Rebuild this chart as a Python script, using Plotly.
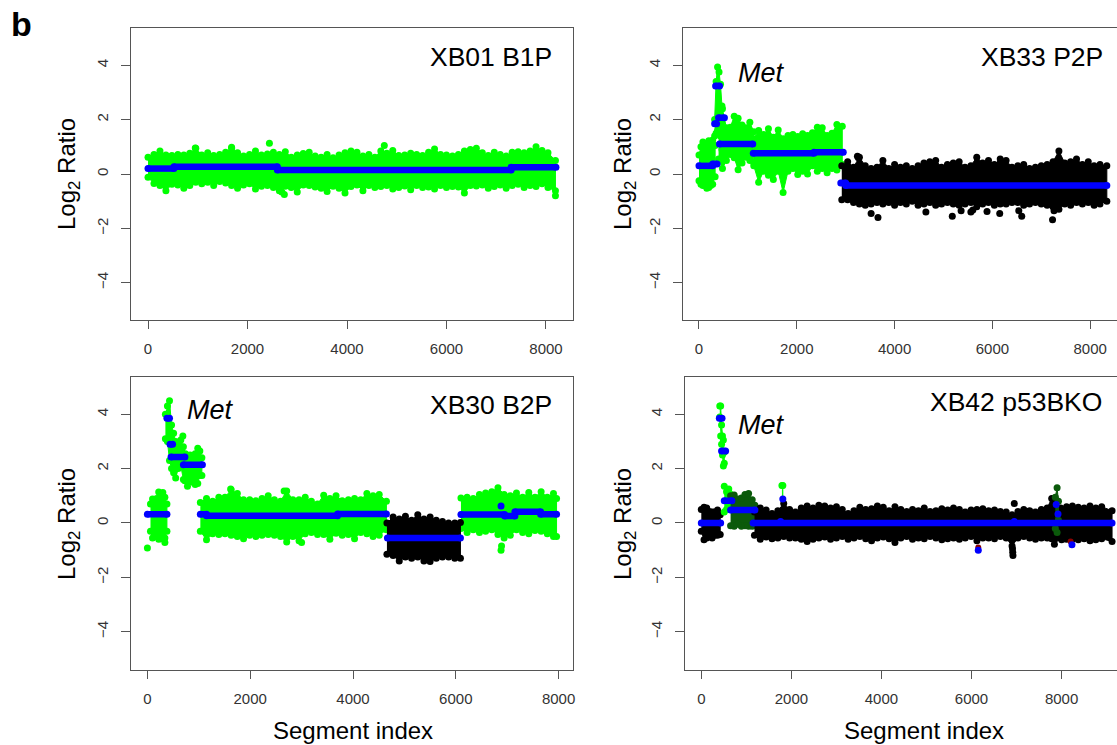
import plotly.graph_objects as go

W, H = 1117, 745
GREEN, BLACK, DARK, BLUE, RED = "#00ff00", "#000000", "#0b5a0b", "#0000ff", "#8b0000"
tick_vals_y = [-4, -2, 0, 2, 4]
tick_vals_x = [0, 2000, 4000, 6000, 8000]
panel_names = ["XB01 B1P", "XB33 P2P", "XB30 B2P", "XB42 p53BKO"]

# ---- Panel 1: XB01 B1P
p1_x = [0,120,240,360,480,600,720,840,960,1080,
        1200,1320,1440,1560,1680,1800,1920,2040,2160,2280,
        2400,2520,2640,2760,2880,3000,3120,3240,3360,3480,
        3600,3720,3840,3960,4080,4200,4320,4440,4560,4680,
        4800,4920,5040,5160,5280,5400,5520,5640,5760,5880,
        6000,6120,6240,6360,6480,6600,6720,6840,6960,7080,
        7200,7320,7440,7560,7680,7800,7920,8040,8190]
p1_hi = [.62,.72,.85,.7,.68,.72,.7,.76,.95,.7,
         .78,.68,.72,.8,.95,.78,.66,.72,.85,.7,
         .74,.8,.72,.82,.62,.7,.75,.8,.66,.62,
         .72,.6,.7,.78,.85,.8,.66,.72,.62,.85,
         .76,.86,.68,.7,.76,.72,.68,.8,.92,.72,
         .7,.66,.72,.85,.9,.95,.78,.68,.8,.72,
         .66,.8,.82,.78,.85,1.0,.86,.78,.5]
p1_lo = [-.12,-.35,-.42,-.62,-.38,-.4,-.52,-.42,-.3,-.36,
         -.3,-.42,-.28,-.33,-.42,-.52,-.4,-.36,-.55,-.45,
         -.42,-.5,-.62,-.45,-.5,-.66,-.4,-.42,-.48,-.52,
         -.64,-.45,-.52,-.7,-.46,-.4,-.62,-.42,-.5,-.46,
         -.42,-.55,-.5,-.44,-.58,-.42,-.5,-.48,-.55,-.42,
         -.5,-.46,-.48,-.7,-.42,-.44,-.4,-.52,-.46,-.4,
         -.52,-.42,-.38,-.5,-.42,-.46,-.36,-.5,-.62]
p1_out_x = [2440,4750,2690,2740,8190,950,1680]
p1_out_y = [1.13,1.05,-.66,-.75,-.8,.96,.98]
p1_seg_x0 = [0,520,2600,7300]
p1_seg_x1 = [520,2600,7300,8200]
p1_seg_y = [.2,.27,.15,.25]

# ---- Panel 2: XB33 P2P
p2a_x = [0,40,80,120,160,200,240,280,330]
p2a_hi = [.7,1.0,1.18,1.1,1.12,1.22,1.05,1.25,1.05]
p2a_lo = [-.25,-.38,-.42,-.42,-.52,-.5,-.42,-.38,-.1]
p2b_x = [320,350,380,410,440,470]
p2b_hi = [2.0,3.4,3.94,3.75,3.3,2.5]
p2b_lo = [1.4,1.5,1.6,1.5,1.4,.9]
p2c_x = [400,480,560,640,720,800,880,960,1040,1120]
p2c_hi = [1.95,2.4,1.7,1.72,2.12,2.05,1.8,1.7,1.9,1.55]
p2c_lo = [.55,.2,.5,.72,.6,.16,.4,.62,.5,.42]
p2d_x = [1120,1220,1320,1420,1520,1620,1720,1820,1920,2020,
         2120,2220,2320,2420,2520,2620,2720,2820,2930]
p2d_hi = [1.3,1.6,1.45,1.66,1.35,1.62,1.3,1.42,1.45,1.38,
          1.48,1.42,1.52,1.72,1.7,1.42,1.5,1.82,1.76]
p2d_lo = [.3,-.3,.1,-.05,-.2,.1,-.68,.1,.2,-.02,
          .1,0,.3,.1,.2,.05,.2,.15,.35]
p2e_x = [2920,3040,3160,3280,3400,3520,3640,3760,3880,4000,
         4120,4240,4360,4480,4600,4720,4840,4960,5080,5200,
         5320,5440,5560,5680,5800,5920,6040,6160,6280,6400,
         6520,6640,6760,6880,7000,7120,7240,7360,7480,7600,
         7720,7840,7960,8080,8200,8340]
p2e_hi = [.3,.45,.25,.62,.3,.2,.25,.5,.2,.35,
          .25,.3,.2,.3,.4,.45,.5,.25,.35,.4,
          .45,.25,.3,.62,.4,.5,.35,.55,.5,.25,
          .3,.35,.2,.25,.3,.35,.45,.85,.4,.45,
          .55,.35,.45,.3,.35,.3]
p2e_lo = [-.95,-.95,-1.05,-1.1,-1.15,-1.1,-1.05,-1.1,-1.05,-1.15,
          -1.05,-1.1,-1.0,-1.15,-1.1,-1.05,-1.15,-1.1,-1.05,-1.1,
          -1.15,-1.1,-1.05,-1.2,-1.1,-1.05,-1.15,-1.1,-1.1,-1.05,
          -1.05,-1.15,-1.1,-1.05,-1.1,-1.15,-1.2,-1.3,-1.1,-1.15,
          -1.05,-1.1,-1.05,-1.15,-1.1,-1.0]
p2_out_x = [3240,3260,3520,3660,4640,5180,5360,5560,5600,5890,6150,6540,6600,7230,7260]
p2_out_y = [.65,.6,-1.45,-1.6,-1.4,-1.55,-1.35,-1.4,-1.32,-1.38,-1.45,-1.35,-1.55,-1.68,-1.35]
p2_seg_x0 = [0,280,320,340,400,420,1110,2350,2900,3000]
p2_seg_x1 = [280,370,360,420,520,1100,2350,2950,3000,8340]
p2_seg_y = [.3,.37,1.85,3.24,2.07,1.1,.76,.8,-.33,-.42]

# ---- Panel 3: XB30 B2P
p3a_x = [60,100,140,180,220,260,300,340,380]
p3a_hi = [.7,.88,.86,.9,1.14,.95,1.12,.95,.7]
p3a_lo = [-.3,-.55,-.5,-.5,-.6,-.58,-.5,-.55,-.3]
p3b_x = [350,390,430,470,510,550,600,650,700,740]
p3b_hi = [4.0,4.3,4.5,3.6,3.3,3.0,2.9,3.05,2.8,2.55]
p3b_lo = [3.1,3.0,2.3,2.0,1.85,1.65,2.0,2.1,1.6,1.55]
p3c_x = [730,780,830,880,930,980,1020,1060]
p3c_hi = [2.3,2.35,2.5,2.4,2.55,2.75,2.65,2.4]
p3c_lo = [1.55,1.35,1.55,1.5,1.42,1.45,1.75,1.75]
p3d_x = [1030,1150,1270,1390,1510,1630,1750,1870,1990,2110,
         2230,2350,2470,2590,2710,2830,2950,3070,3190,3310,
         3430,3550,3670,3790,3910,4030,4150,4270,4390,4510,4650]
p3d_hi = [.75,.9,.8,.95,.95,1.22,1.08,.85,.85,.82,
          .9,1.0,.85,.8,1.18,.85,.85,.95,.8,.7,
          1.02,.9,1.0,.82,.85,.9,.85,1.08,1.0,1.05,.8]
p3d_lo = [-.3,-.62,-.4,-.42,-.4,-.45,-.5,-.58,-.45,-.5,
          -.45,-.42,-.45,-.5,-.7,-.5,-.65,-.4,-.35,-.42,
          -.42,-.6,-.38,-.45,-.42,-.58,-.35,-.4,-.5,-.45,-.25]
p3e_x = [4660,4780,4900,5020,5140,5260,5380,5500,5620,5740,5860,5980,6090]
p3e_hi = [0,.22,.15,.25,.1,.3,.15,.22,.1,.05,.0,.0,.02]
p3e_lo = [-1.15,-1.2,-1.4,-1.25,-1.3,-1.25,-1.4,-1.42,-1.3,-1.25,-1.25,-1.3,-1.3]
p3f_x = [6100,6220,6340,6460,6580,6700,6820,6940,7060,7180,7300,7420,7540,7660,7780,7900,7960]
p3f_hi = [.92,.95,.9,1.05,1.1,1.15,1.3,1.05,1.0,1.1,.95,1.12,.95,1.15,.95,1.08,.9]
p3f_lo = [-.2,-.35,-.25,-.35,-.3,-.25,-.42,-.55,-.45,-.25,-.35,-.4,-.28,-.3,-.4,-.5,-.5]
p3_out_x = [0,340,690,1620,2660,6880,6890,3000]
p3_out_y = [-.92,-.72,3.2,1.25,1.18,-1.0,-.85,-.72]
p3_seg_x0 = [0,380,440,460,700,1030,1150,3700,4670,6100,6950,7150,7650]
p3_seg_x1 = [380,430,490,730,1070,1150,3700,4650,6090,6950,7150,7650,7960]
p3_seg_y = [.32,3.85,2.9,2.43,2.14,.32,.27,.33,-.55,.31,.26,.41,.32]
p3_dot_x = [6880]
p3_dot_y = [.62]

# ---- Panel 4: XB42 p53BKO
p4a_x = [0,60,120,180,240,300,360,420]
p4a_hi = [.5,.58,.55,.42,.4,.4,.48,.3]
p4a_lo = [-.3,-.62,-.55,-.45,-.55,-.45,-.45,-.42]
p4b_x = [410,430,450,470,490,510]
p4b_hi = [4.3,4.3,3.6,3.2,3.05,2.6]
p4b_lo = [3.9,3.2,2.9,2.5,2.1,2.2]
p4c_x = [510,560,610,660]
p4c_hi = [1.35,1.15,1.25,1.05]
p4c_lo = [.4,.5,.65,.65]
p4d_x = [650,730,810,890,970,1050,1130,1190]
p4d_hi = [1.0,1.03,.88,.92,1.05,1.08,.85,.65]
p4d_lo = [-.1,-.12,-.05,-.12,-.1,-.12,-.12,-.02]
p4e_x = [1790,1810]
p4e_hi = [1.38,1.38]
p4e_lo = [.3,.4]
p4f_x = [7860,7900,7930]
p4f_hi = [.95,1.3,.8]
p4f_lo = [-.2,-.35,.1]
p4g_x = [1180,1310,1440,1570,1700,1830,1960,2090,2220,2350,
         2480,2610,2740,2870,3000,3130,3260,3390,3520,3650,
         3780,3910,4040,4170,4300,4430,4560,4690,4820,4950,
         5080,5210,5340,5470,5600,5730,5860,5990,6120,6250,
         6380,6510,6640,6770,6900,7030,7160,7290,7420,7550,
         7680,7780,7840,7980,8110,8240,8370,8500,8630,8760,8890,9120]
p4g_hi = [.4,.55,.48,.35,.45,.72,.5,.4,.55,.62,
          .55,.65,.62,.55,.6,.5,.35,.45,.58,.5,
          .52,.62,.58,.45,.6,.5,.42,.5,.45,.55,
          .42,.45,.52,.48,.55,.5,.4,.48,.5,.52,
          .45,.48,.42,.4,.3,.42,.5,.45,.4,.5,
          .55,.9,.85,.55,.6,.62,.58,.55,.62,.55,.6,.45]
p4g_lo = [-.45,-.6,-.52,-.58,-.55,-.5,-.55,-.55,-.6,-.68,
          -.6,-.55,-.52,-.6,-.55,-.5,-.6,-.55,-.5,-.58,
          -.65,-.55,-.52,-.58,-.72,-.55,-.5,-.6,-.55,-.58,
          -.5,-.55,-.62,-.58,-.55,-.6,-.55,-.5,-.65,-.55,
          -.55,-.58,-.5,-.55,-.85,-.55,-.5,-.55,-.6,-.55,
          -.55,-.58,-.78,-.55,-.6,-.6,-.62,-.58,-.65,-.62,-.58,-.68]
p4_out_x = [6950,6920,6915,6910,8000]
p4_out_y = [.72,-1.2,-1.08,-.95,-.62]
p4_red_x = [6150,8200]
p4_red_y = [-.9,-.68]
p4_seg_x0 = [0,400,450,510,650,1150]
p4_seg_x1 = [430,460,540,680,1190,9120]
p4_seg_y = [0,3.85,2.65,.82,.48,0]
p4_dot_x = [1760,1810,6950,7880,7920,6150,8230]
p4_dot_y = [.05,.88,.05,.68,.33,-1.0,-.8]

# ---- Layout geometry (pixels of the 1117x745 page)
boxes = {
    1: dict(l=131, r=573, t=28, b=320, xr=[-342, 8543], yr=[-5.37, 5.37], mirror=True),
    2: dict(l=683, r=1117, t=28, b=320, xr=[-327, 8548], yr=[-5.37, 5.37], mirror=False),
    3: dict(l=131, r=573, t=377, b=669.5, xr=[-319, 8280], yr=[-5.39, 5.37], mirror=True),
    4: dict(l=685, r=1117, t=377, b=669.5, xr=[-362, 9230], yr=[-5.39, 5.37], mirror=False),
}
fig = go.Figure()
MS = 7


def ax(n):
    return ("x%d" % n, "y%d" % n)


def cloud(n, color, x, hi, lo):
    xa, ya = ax(n)
    fig.add_trace(go.Scatter(x=list(x) + list(x)[::-1], y=list(hi) + list(lo)[::-1],
                             mode="lines+markers", fill="toself", fillcolor=color,
                             line=dict(color=color, width=1), marker=dict(color=color, size=MS),
                             xaxis=xa, yaxis=ya, showlegend=False, hoverinfo="skip"))


def dots(n, color, x, y, size=MS):
    xa, ya = ax(n)
    fig.add_trace(go.Scatter(x=x, y=y, mode="markers", marker=dict(color=color, size=size),
                             xaxis=xa, yaxis=ya, showlegend=False))


def segments(n, x0, x1, y):
    xa, ya = ax(n)
    xs, ys = [], []
    for a, b, v in zip(x0, x1, y):
        xs += [a, b, None]
        ys += [v, v, None]
    fig.add_trace(go.Scatter(x=xs, y=ys, mode="lines+markers", line=dict(color=BLUE, width=6.5),
                             marker=dict(color=BLUE, size=7), xaxis=xa, yaxis=ya,
                             showlegend=False))


cloud(1, GREEN, p1_x, p1_hi, p1_lo)
dots(1, GREEN, p1_out_x, p1_out_y)
segments(1, p1_seg_x0, p1_seg_x1, p1_seg_y)

cloud(2, GREEN, p2a_x, p2a_hi, p2a_lo)
cloud(2, GREEN, p2b_x, p2b_hi, p2b_lo)
cloud(2, GREEN, p2c_x, p2c_hi, p2c_lo)
cloud(2, GREEN, p2d_x, p2d_hi, p2d_lo)
cloud(2, BLACK, p2e_x, p2e_hi, p2e_lo)
dots(2, BLACK, p2_out_x, p2_out_y)
segments(2, p2_seg_x0, p2_seg_x1, p2_seg_y)

cloud(3, GREEN, p3a_x, p3a_hi, p3a_lo)
cloud(3, GREEN, p3b_x, p3b_hi, p3b_lo)
cloud(3, GREEN, p3c_x, p3c_hi, p3c_lo)
cloud(3, GREEN, p3d_x, p3d_hi, p3d_lo)
cloud(3, GREEN, p3f_x, p3f_hi, p3f_lo)
cloud(3, BLACK, p3e_x, p3e_hi, p3e_lo)
dots(3, GREEN, p3_out_x, p3_out_y)
segments(3, p3_seg_x0, p3_seg_x1, p3_seg_y)
dots(3, BLUE, p3_dot_x, p3_dot_y)

cloud(4, GREEN, p4e_x, p4e_hi, p4e_lo)
cloud(4, BLACK, p4a_x, p4a_hi, p4a_lo)
cloud(4, GREEN, p4b_x, p4b_hi, p4b_lo)
cloud(4, GREEN, p4c_x, p4c_hi, p4c_lo)
cloud(4, DARK, p4d_x, p4d_hi, p4d_lo)
cloud(4, BLACK, p4g_x, p4g_hi, p4g_lo)
cloud(4, DARK, p4f_x, p4f_hi, p4f_lo)
dots(4, BLACK, p4_out_x, p4_out_y)
dots(4, RED, p4_red_x, p4_red_y, 6)
segments(4, p4_seg_x0, p4_seg_x1, p4_seg_y)
dots(4, BLUE, p4_dot_x, p4_dot_y, 7)

layout = dict(width=W, height=H, autosize=False, margin=dict(l=0, r=0, t=0, b=0),
              paper_bgcolor="white", plot_bgcolor="white",
              font=dict(family="Liberation Sans, Arial, sans-serif", color="#333333"),
              showlegend=False, hovermode=False)
AXC = "#555555"
for n, b in boxes.items():
    xkey, ykey = "xaxis%d" % n, "yaxis%d" % n
    layout[xkey] = dict(domain=[b["l"] / W, b["r"] / W], range=b["xr"], anchor="y%d" % n,
                        tickmode="array", tickvals=tick_vals_x, ticks="outside", ticklen=8,
                        tickwidth=1, tickcolor=AXC, showline=True, linecolor=AXC, linewidth=1.2,
                        mirror=True, showgrid=False, zeroline=False, automargin=False,
                        ticklabelstandoff=7, tickfont=dict(size=15, color="#333333"))
    layout[ykey] = dict(domain=[1 - b["b"] / H, 1 - b["t"] / H], range=b["yr"], anchor="x%d" % n,
                        tickmode="array", tickvals=tick_vals_y, ticks="outside", ticklen=9,
                        tickwidth=1, tickcolor=AXC, showline=True, linecolor=AXC, linewidth=1.2,
                        mirror=b["mirror"], showgrid=False, zeroline=False, tickangle=-90,
                        automargin=False,
                        ticklabelstandoff=7, tickfont=dict(size=15, color="#333333"))


def note(text, x, y, size, xanchor="center", angle=0, **font):
    return dict(text=text, x=x / W, y=1 - y / H, xref="paper", yref="paper", showarrow=False,
                xanchor=xanchor, yanchor="middle", textangle=angle,
                font=dict(size=size, color="black", family="Liberation Sans, Arial, sans-serif", **font))


layout["annotations"] = [
    note("<b>b</b>", 21, 24, 34),
    note(panel_names[0], 554, 57, 26.5, "right"),
    note(panel_names[1], 1105, 57, 26.5, "right"),
    note(panel_names[2], 554, 405, 26.5, "right"),
    note(panel_names[3], 1104, 402, 26.5, "right"),
    note("<i>Met</i>", 736, 73, 27, "left"),
    note("<i>Met</i>", 185, 410, 27, "left"),
    note("<i>Met</i>", 736, 425, 27, "left"),
    note("Segment index", 353, 730, 24),
    note("Segment index", 924, 730, 24),
    note("Log<sub>2</sub> Ratio", 68, 174, 24, angle=-90),
    note("Log<sub>2</sub> Ratio", 624, 174, 24, angle=-90),
    note("Log<sub>2</sub> Ratio", 68, 524, 24, angle=-90),
    note("Log<sub>2</sub> Ratio", 624, 524, 24, angle=-90),
]
fig.update_layout(**layout)
fig.write_html("out.html", config={"displayModeBar": False},
               post_script="document.body.style.margin='0';document.body.style.overflow='hidden';")
